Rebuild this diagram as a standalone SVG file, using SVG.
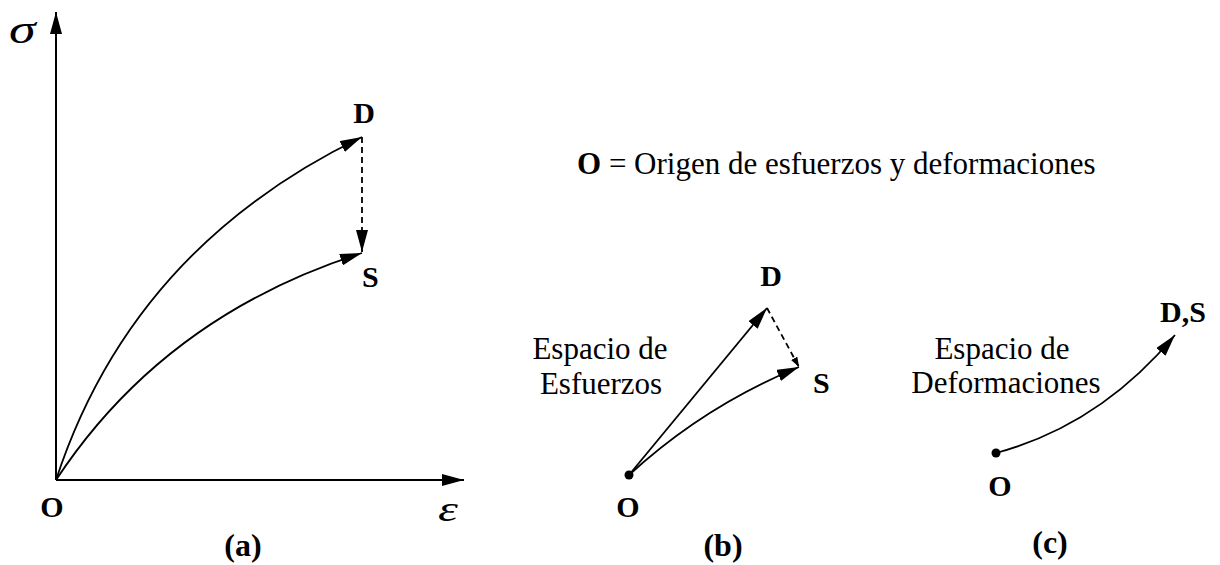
<svg xmlns="http://www.w3.org/2000/svg" width="1220" height="565" viewBox="0 0 1220 565">
<style>
.ln{fill:none;stroke:#000;stroke-width:1.8}
.ax{fill:none;stroke:#000;stroke-width:2}
.ds{fill:none;stroke:#000;stroke-width:1.8;stroke-dasharray:6 4}
.b{font-family:"Liberation Serif","Times New Roman",serif;font-weight:bold;font-size:30px;fill:#000}
.r{font-family:"Liberation Serif","Times New Roman",serif;font-size:31px;fill:#000}
.g{font-family:"Liberation Serif","Times New Roman",serif;font-style:italic;fill:#000}
.cap{font-family:"Liberation Serif","Times New Roman",serif;font-weight:bold;font-size:32px;fill:#000}
</style>
<defs>
<marker id="ah" viewBox="0 0 22 12" markerWidth="22" markerHeight="12" markerUnits="userSpaceOnUse" refX="22" refY="6" orient="auto">
<path d="M0,0 L22,6 L0,12 z" fill="#000"/>
</marker>
<marker id="ahs" viewBox="0 0 10 7" markerWidth="10" markerHeight="7" markerUnits="userSpaceOnUse" refX="10" refY="3.5" orient="auto">
<path d="M0,0 L10,3.5 L0,7 z" fill="#000"/>
</marker>
</defs>
<rect width="1220" height="565" fill="#fff"/>
<g id="connectors">
<path class="ax" d="M56,480 L56,12" marker-end="url(#ah)"/>
<path class="ax" d="M56,480 L464,480" marker-end="url(#ah)"/>
<path class="ln" d="M56,480 Q132,248 362,137" marker-end="url(#ah)"/>
<path class="ln" d="M56,480 Q164,316 362,253" marker-end="url(#ah)"/>
<path class="ds" d="M362,137 L362,252" marker-end="url(#ah)"/>
<path class="ln" d="M629,475 L767,308" marker-end="url(#ah)"/>
<path class="ln" d="M629,475 Q704,406 799,367" marker-end="url(#ah)"/>
<path class="ds" d="M767,308 L799,367" marker-end="url(#ahs)"/>
<path class="ln" d="M996,453 Q1100,425 1175,335" marker-end="url(#ah)"/>
</g>
<g id="axis-labels">
<text class="g" font-size="40" transform="translate(9,43) scale(1.35,1)">σ</text>
<text class="g" font-size="36" transform="translate(438,521) scale(1.4,1)">ε</text>
</g>
<g id="a-O"><text class="b" x="52" y="517" text-anchor="middle">O</text></g>
<g id="a-D"><text class="b" x="364" y="123" text-anchor="middle">D</text></g>
<g id="a-S"><text class="b" x="362" y="287">S</text></g>
<g id="a-cap"><text class="cap" x="243" y="556" text-anchor="middle">(a)</text></g>
<g id="legend"><text class="r" x="577" y="174"><tspan font-weight="bold">O</tspan> = Origen de esfuerzos y deformaciones</text></g>
<g id="b-label"><text class="r" x="600" y="359" text-anchor="middle">Espacio de</text><text class="r" x="601" y="394" text-anchor="middle">Esfuerzos</text></g>
<g id="b-O"><circle cx="629" cy="475" r="4.5" fill="#000"/><text class="b" x="628" y="517" text-anchor="middle">O</text></g>
<g id="b-D"><text class="b" x="771" y="286" text-anchor="middle">D</text></g>
<g id="b-S"><text class="b" x="813" y="393">S</text></g>
<g id="b-cap"><text class="cap" x="723" y="556" text-anchor="middle">(b)</text></g>
<g id="c-label"><text class="r" x="1002" y="359" text-anchor="middle">Espacio de</text><text class="r" x="1006" y="393" text-anchor="middle">Deformaciones</text></g>
<g id="c-O"><circle cx="996" cy="453" r="4.5" fill="#000"/><text class="b" x="1000" y="496" text-anchor="middle">O</text></g>
<g id="c-DS"><text class="b" x="1160" y="322">D,S</text></g>
<g id="c-cap"><text class="cap" x="1050" y="553" text-anchor="middle">(c)</text></g>
</svg>
